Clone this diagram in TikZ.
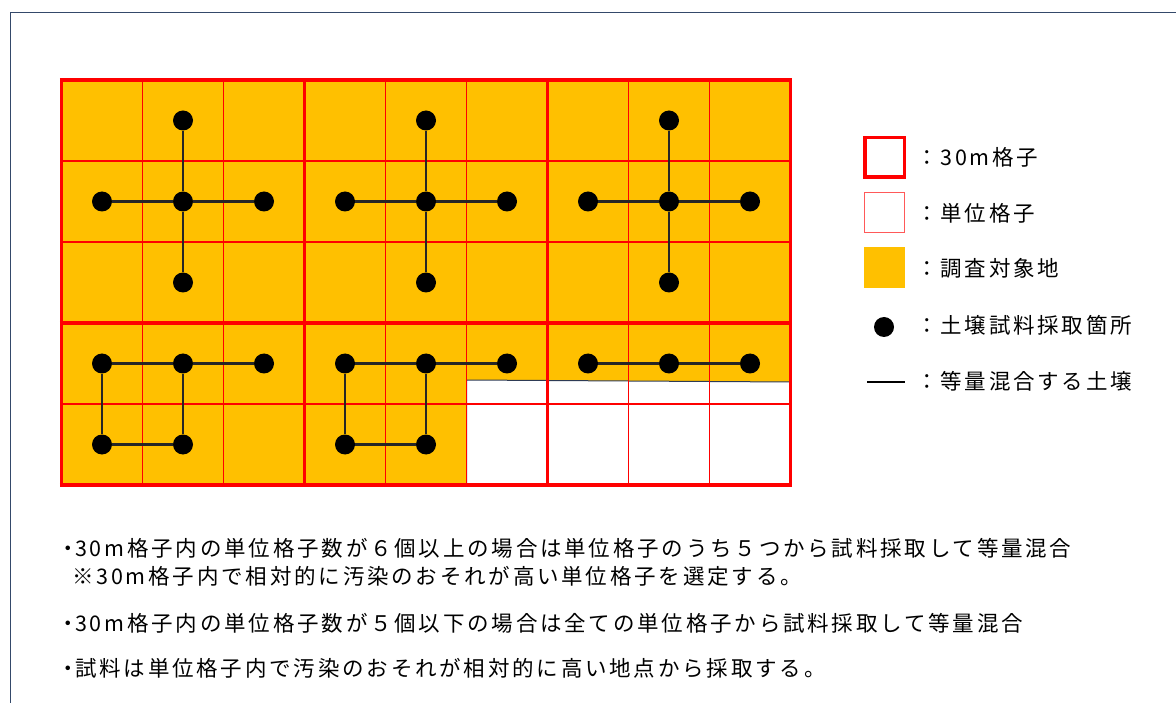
\documentclass[tikz,border=0pt]{standalone}
\usepackage{fontspec}
\newfontfamily\jp[LetterSpace=13]{Noto Sans CJK JP}
\definecolor{gold}{HTML}{FFC000}
\definecolor{framec}{HTML}{34496A}
\definecolor{edgec}{HTML}{2E3B55}
\begin{document}
\begin{tikzpicture}[x=1pt,y=-1pt,
  unitline/.style={red, line width=1.2pt},
  cellline/.style={red, line width=3.5pt},
  dot/.style={circle, fill=black, minimum size=20pt, inner sep=0pt},
  mix/.style={black!85, line width=2.2pt},
  lbl/.style={anchor=west, inner sep=0pt, font=\jp\fontsize{21.5}{25}\selectfont}]
\useasboundingbox (0,0) rectangle (1176,703);
\begin{scope}
\clip (0,0) rectangle (1176,703);
\draw[framec, line width=1.8pt] (10.5,760) -- (10.5,12.5) -- (1220,12.5);
\end{scope}
% area
\fill[gold] (61.5,80) rectangle (790.5,485);
\fill[white] (466.5,380) -- (790.5,382) -- (790.5,485) -- (466.5,485) -- cycle;
\draw[edgec, line width=1pt] (466.5,485) -- (466.5,380) -- (790.5,382);
% unit grid
\foreach \i in {1,...,8} \draw[unitline] (61.5+81*\i,80) -- (61.5+81*\i,485);
\foreach \j in {1,...,4} \draw[unitline] (61.5,80+81*\j) -- (790.5,80+81*\j);
% 30m grid
\foreach \x in {61.5,304.5,547.5,790.5} \draw[cellline] (\x,80) -- (\x,485);
\foreach \y in {80,323,485} \draw[cellline] (59.75,\y) -- (792.25,\y);
% top row of 30m cells: cross pattern
\foreach \k in {0,1,2} {
  \pgfmathsetmacro{\cx}{183+243*\k}
  \node[dot] (t\k) at (\cx,120.5) {};
  \node[dot] (l\k) at (\cx-81,201.5) {};
  \node[dot] (c\k) at (\cx,201.5) {};
  \node[dot] (r\k) at (\cx+81,201.5) {};
  \node[dot] (b\k) at (\cx,282.5) {};
  \draw[mix] (t\k) -- (c\k) -- (b\k);
  \draw[mix] (l\k) -- (c\k) -- (r\k);
}
% bottom row
\foreach \k in {0,1} {
  \pgfmathsetmacro{\cx}{102+243*\k}
  \node[dot] (pa\k) at (\cx,363.5) {};
  \node[dot] (pb\k) at (\cx+81,363.5) {};
  \node[dot] (pc\k) at (\cx+162,363.5) {};
  \node[dot] (pd\k) at (\cx,444.5) {};
  \node[dot] (pe\k) at (\cx+81,444.5) {};
  \draw[mix] (pa\k) -- (pb\k) -- (pc\k);
  \draw[mix] (pa\k) -- (pd\k) -- (pe\k) -- (pb\k);
}
\node[dot] (qa) at (588,363.5) {};
\node[dot] (qb) at (669,363.5) {};
\node[dot] (qc) at (750,363.5) {};
\draw[mix] (qa) -- (qb) -- (qc);
% legend
\node[draw=red, line width=3.5pt, minimum size=39.5pt, inner sep=0pt] (L1) at (884.5,157.5) {};
\node[draw=red!65, line width=1pt, minimum size=40pt, inner sep=0pt] (L2) at (884.5,212.5) {};
\node[fill=gold, minimum size=41pt, inner sep=0pt] (L3) at (884.5,267.5) {};
\node[dot] (L4) at (884,327) {};
\coordinate (L5a) at (867,382);
\coordinate (L5b) at (905,382);
\draw[black, line width=1.2pt] (L5a) -- (L5b);
\node[lbl] (T1) at (916,157) {：30m格子};
\node[lbl] (T2) at (916,213) {：単位格子};
\node[lbl] (T3) at (916,268) {：調査対象地};
\node[lbl] (T4) at (916,325) {：土壌試料採取箇所};
\node[lbl] (T5) at (916,381) {：等量混合する土壌};
% notes
\node[lbl] (B1) at (61,548) {\makebox[14pt]{・}30m格子内の単位格子数が６個以上の場合は単位格子のうち５つから試料採取して等量混合};
\node[lbl] (B2) at (72,576) {※30m格子内で相対的に汚染のおそれが高い単位格子を選定する。};
\node[lbl] (B3) at (61,623) {\makebox[14pt]{・}30m格子内の単位格子数が５個以下の場合は全ての単位格子から試料採取して等量混合};
\node[lbl] (B4) at (61,668) {\makebox[14pt]{・}試料は単位格子内で汚染のおそれが相対的に高い地点から採取する。};
\end{tikzpicture}
\end{document}
